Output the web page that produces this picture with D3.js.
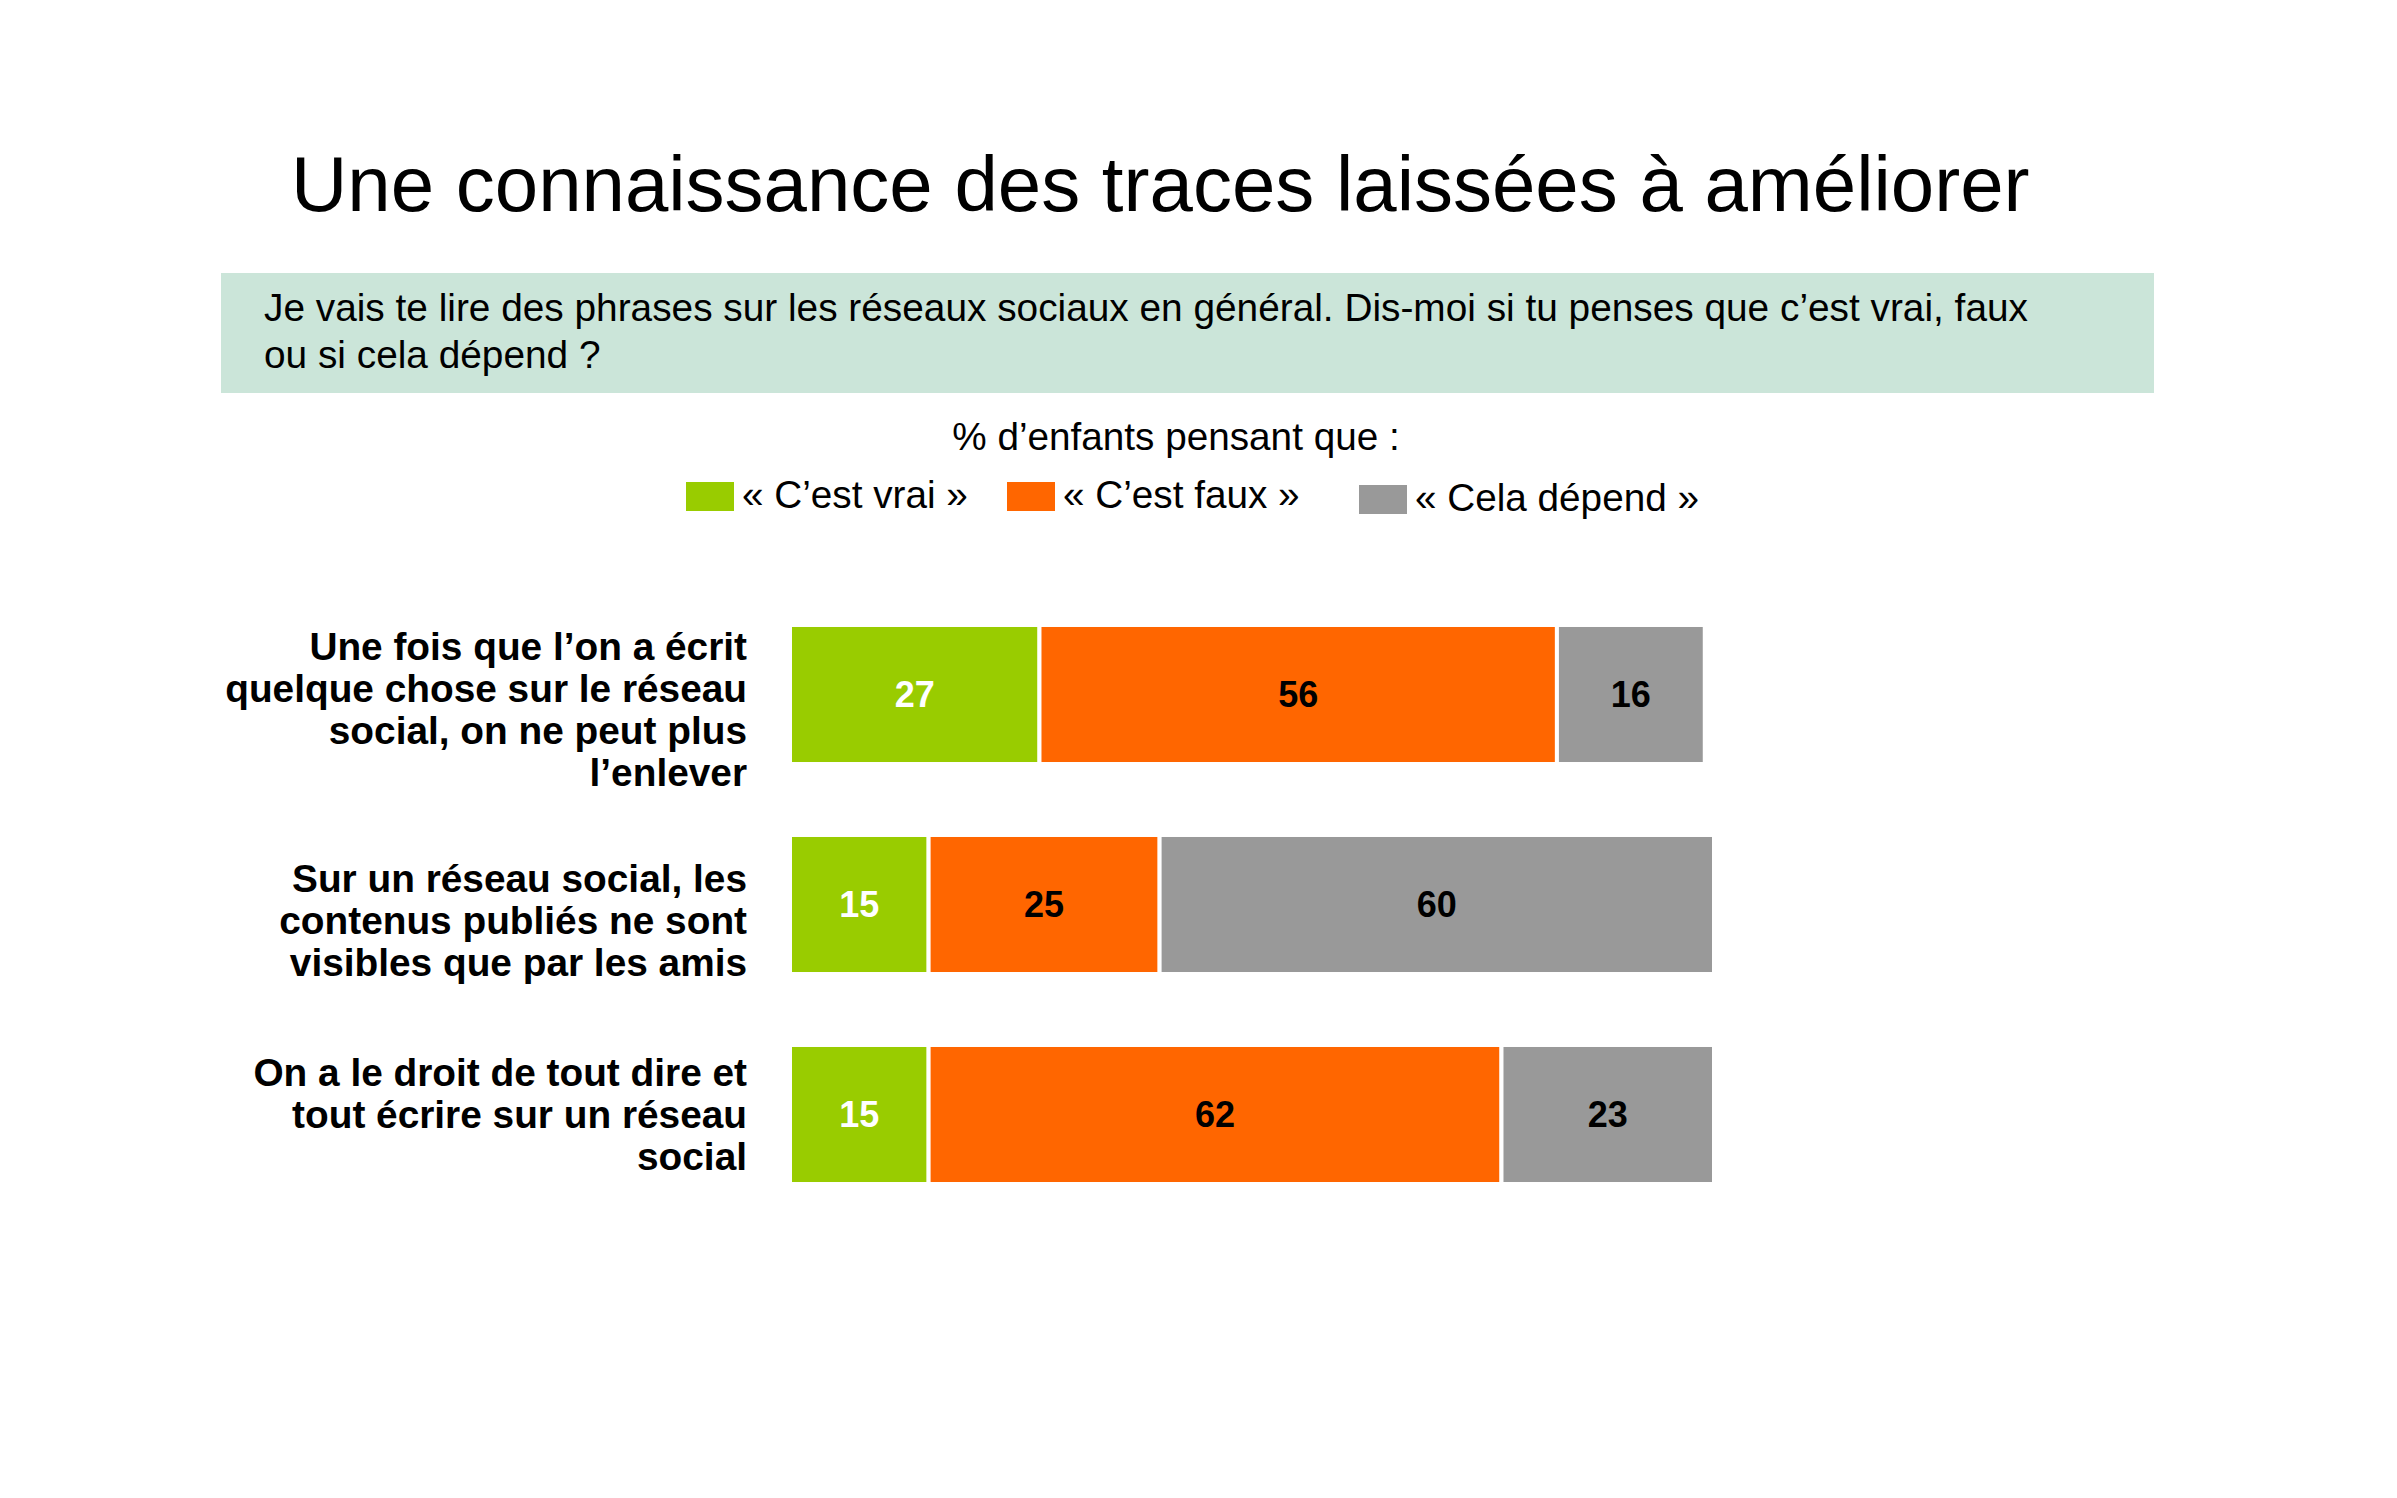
<!DOCTYPE html>
<html>
<head>
<meta charset="utf-8">
<script src="https://cdn.jsdelivr.net/npm/d3@7"></script>
<style>
  html, body { margin: 0; padding: 0; background: #ffffff; }
  svg { display: block; font-family: "Liberation Sans", Arial, sans-serif; }
</style>
</head>
<body>
<svg id="chart" width="2397" height="1498"></svg>
<script>
// ---- data ----
const title = "Une connaissance des traces laissées à améliorer";
const questionLines = [
  "Je vais te lire des phrases sur les réseaux sociaux en général. Dis-moi si tu penses que c’est vrai, faux",
  "ou si cela dépend ?"
];
const legendTitle = "% d’enfants pensant que :";
const categories = [
  ["Une fois que l’on a écrit", "quelque chose sur le réseau", "social, on ne peut plus", "l’enlever"],
  ["Sur un réseau social, les", "contenus publiés ne sont", "visibles que par les amis"],
  ["On a le droit de tout dire et", "tout écrire sur un réseau", "social"]
];
const seriesKeys = ["vrai", "faux", "depend"];
const seriesNames = ["« C’est vrai »", "« C’est faux »", "« Cela dépend »"];
const vrai = [27, 15, 15];
const faux = [56, 25, 62];
const depend = [16, 60, 23];

// ---- styles / layout ----
const colors = ["#99cc00", "#ff6600", "#999999"];
const valueColors = ["#ffffff", "#000000", "#000000"];
const legendX = [686, 1007, 1359];
const legendDy = [0, 0, 3];
const labelShift = [16, 17, 1];

const rows = categories.map((c, i) => ({ idx: i, vrai: vrai[i], faux: faux[i], depend: depend[i] }));
const stacked = d3.stack().keys(seriesKeys)(rows);

const svg = d3.select("#chart");

// title
svg.append("text")
  .attr("x", 291).attr("y", 211)
  .attr("font-size", 78)
  .attr("fill", "#000")
  .text(title);

// question box
svg.append("rect")
  .attr("x", 221).attr("y", 273).attr("width", 1933).attr("height", 120)
  .attr("fill", "#cbe5d9");
svg.append("g").selectAll("text").data(questionLines).join("text")
  .attr("x", 264).attr("y", (d, i) => 321 + i * 47)
  .attr("font-size", 38.8)
  .attr("fill", "#000")
  .text(d => d);

// legend
svg.append("text")
  .attr("x", 1176).attr("y", 450)
  .attr("text-anchor", "middle")
  .attr("font-size", 38.7)
  .text(legendTitle);
const lg = svg.append("g").selectAll("g").data(seriesNames).join("g")
  .attr("transform", (d, i) => `translate(${legendX[i]},${482 + legendDy[i]})`);
lg.append("rect").attr("width", 48).attr("height", 29).attr("fill", (d, i) => colors[i]);
lg.append("text").attr("x", 56).attr("y", 26).attr("font-size", 38.7).text(d => d);

// scales
const x = d3.scaleLinear().domain([0, 100]).range([790, 1714]);
const y = d3.scaleBand().domain(d3.range(categories.length))
  .range([589.5, 1219.5]).paddingInner(0.338).paddingOuter(0.169);

// bars
const layers = svg.append("g").selectAll("g").data(stacked).join("g")
  .attr("fill", (d, i) => colors[i]);
layers.selectAll("rect").data(d => d).join("rect")
  .attr("x", d => x(d[0]))
  .attr("y", (d, i) => y(i))
  .attr("width", d => x(d[1]) - x(d[0]))
  .attr("height", y.bandwidth())
  .attr("stroke", "#ffffff")
  .attr("stroke-width", 4);

// value labels
stacked.forEach((layer, si) => {
  svg.append("g").selectAll("text").data(layer).join("text")
    .attr("x", d => (x(d[0]) + x(d[1])) / 2)
    .attr("y", (d, i) => y(i) + y.bandwidth() / 2)
    .attr("dy", "0.36em")
    .attr("text-anchor", "middle")
    .attr("font-size", 36)
    .attr("font-weight", "bold")
    .attr("fill", valueColors[si])
    .text(d => d[1] - d[0]);
});

// category labels
const lineH = 42;
const capH = 25;
categories.forEach((lines, i) => {
  const center = y(i) + y.bandwidth() / 2 + labelShift[i];
  const blockH = (lines.length - 1) * lineH + capH;
  const firstBase = center - blockH / 2 + capH;
  svg.append("g").selectAll("text").data(lines).join("text")
    .attr("x", 747)
    .attr("y", (d, j) => firstBase + j * lineH)
    .attr("text-anchor", "end")
    .attr("font-size", 38.8)
    .attr("font-weight", "bold")
    .attr("fill", "#000")
    .text(d => d);
});
</script>
</body>
</html>
